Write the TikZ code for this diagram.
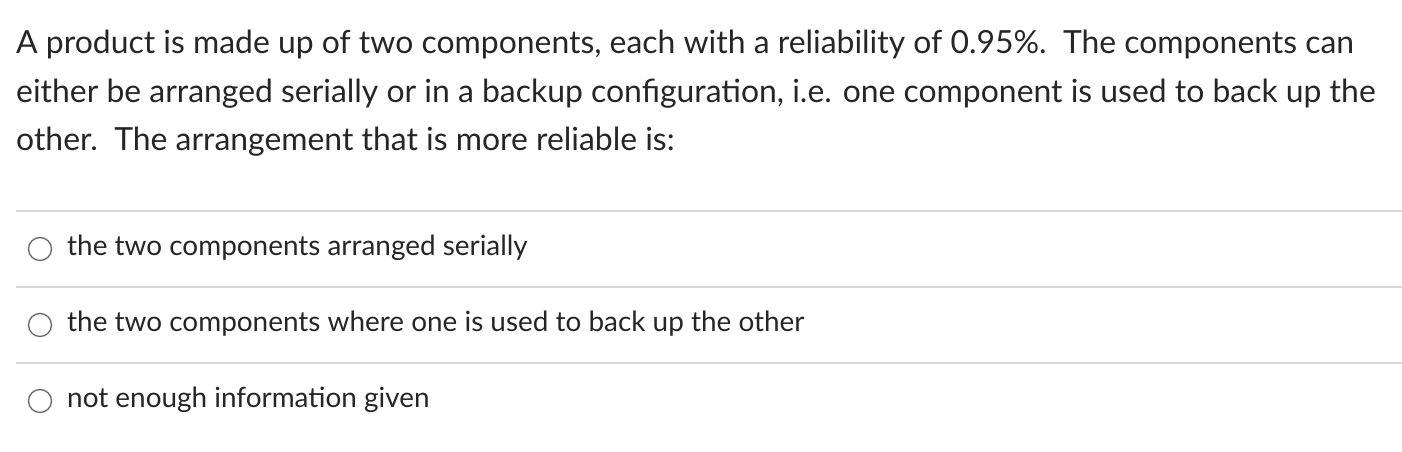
\documentclass[tikz,border=0pt]{standalone}
\usepackage{fontspec}
\setmainfont{Lato}
\begin{document}
\begin{tikzpicture}[x=1pt,y=-1pt,
  q/.style={anchor=base west,inner sep=0,font=\fontsize{31.9}{36}\selectfont,text=black!85},
  opt/.style={anchor=base west,inner sep=0,font=\fontsize{27.9}{32}\selectfont,text=black!85},
  sep/.style={draw=black!15,line width=1.2pt},
  radio/.style={draw=black!60,line width=1.3pt,circle,minimum size=23pt,inner sep=0}]
\useasboundingbox (0,0) rectangle (1402,452);
\node[q] (l1) at (16,54) {A product is made up of two components, each with a reliability of 0.95\%.\ \ The components can};
\node[q] (l2) at (16,102) {either be arranged serially or in a backup configuration, i.e. one component is used to back up the};
\node[q] (l3) at (16,150) {other.\ \ The arrangement that is more reliable is:};
\coordinate (s1a) at (16,211); \coordinate (s1b) at (1402,211);
\coordinate (s2a) at (16,287); \coordinate (s2b) at (1402,287);
\coordinate (s3a) at (16,363); \coordinate (s3b) at (1402,363);
\draw[sep] (s1a) -- (s1b);
\draw[sep] (s2a) -- (s2b);
\draw[sep] (s3a) -- (s3b);
\node[radio] (r1) at (40,249) {};
\node[radio] (r2) at (40,325) {};
\node[radio] (r3) at (40,401) {};
\node[opt] (o1) at (67,255) {the two components arranged serially};
\node[opt] (o2) at (67,331) {the two components where one is used to back up the other};
\node[opt] (o3) at (67,407) {not enough information given};
\end{tikzpicture}
\end{document}
